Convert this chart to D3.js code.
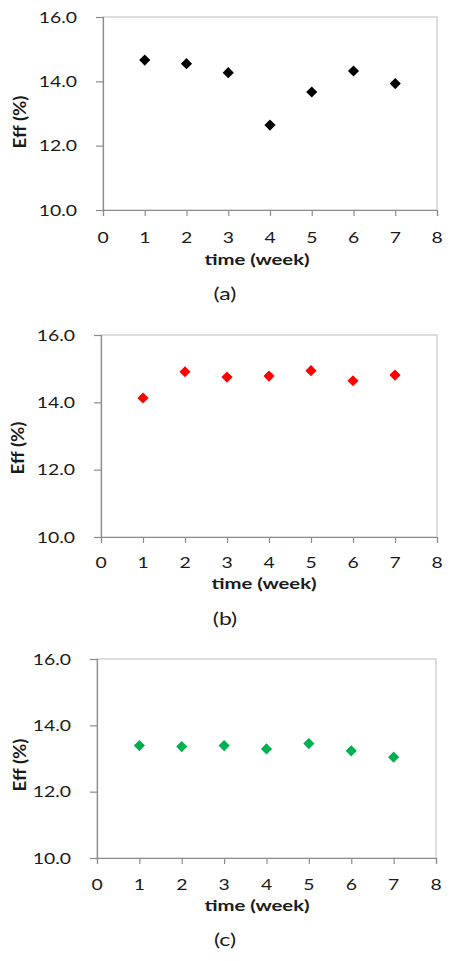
<!DOCTYPE html>
<html>
<head>
<meta charset="utf-8">
<script src="https://cdn.jsdelivr.net/npm/d3@7"></script>
<style>
  html, body { margin: 0; padding: 0; background: #fff; }
  svg { display: block; }
  text { font-family: Lato, "Open Sans", sans-serif; fill: #1a1a1a; }
</style>
</head>
<body>
<svg id="chart" width="456" height="961"></svg>
<script>
// data
const weeks = [1, 2, 3, 4, 5, 6, 7];
const effA = [14.66, 14.55, 14.27, 12.64, 13.67, 14.32, 13.93];
const effB = [14.13, 14.91, 14.75, 14.78, 14.94, 14.64, 14.81];
const effC = [13.39, 13.36, 13.39, 13.29, 13.45, 13.23, 13.04];
const xTicks = [0, 1, 2, 3, 4, 5, 6, 7, 8];
const yTicks = [10, 12, 14, 16];
const captions = ["(a)", "(b)", "(c)"];
const xTitle = "time (week)";
const yTitle = "Eff (%)";

// one entry per panel: plot box and text rows, in page pixels
const panels = [
  { values: effA, color: "#000000", left: 103, right: 437, top: 17, bottom: 210,
    tickY: 243, titleX: 257, titleY: 265, capY: 300, yTitleX: 20, yTitleY: 122 },
  { values: effB, color: "#ff0000", left: 101, right: 437, top: 335, bottom: 537,
    tickY: 568, titleX: 264, titleY: 589, capY: 625, yTitleX: 18, yTitleY: 448 },
  { values: effC, color: "#00b050", left: 97, right: 436, top: 659, bottom: 858,
    tickY: 890, titleX: 257, titleY: 911, capY: 946, yTitleX: 20, yTitleY: 765 }
];

// the original text is drawn wide, so stretch it horizontally
const tickStretch = 1.25;
const titleStretch = 1.27;
const fmtY = d3.format(".1f");

const svg = d3.select("#chart");

panels.forEach((p, k) => {
  const x = d3.scaleLinear().domain([0, 8]).range([p.left, p.right]);
  const y = d3.scaleLinear().domain([10, 16]).range([p.bottom, p.top]);
  const g = svg.append("g");

  // light plot border
  g.append("rect")
    .attr("x", p.left).attr("y", p.top)
    .attr("width", p.right - p.left).attr("height", p.bottom - p.top)
    .attr("fill", "none").attr("stroke", "#c8c8c8").attr("stroke-width", 1.2);

  // x axis, labels drawn separately
  const xa = g.append("g")
    .attr("transform", `translate(0,${p.bottom})`)
    .call(d3.axisBottom(x).tickValues(xTicks).tickSize(6).tickFormat(""));
  xa.select(".domain").attr("stroke", "#8c8c8c").attr("stroke-width", 1.2);
  xa.selectAll(".tick line").attr("stroke", "#8c8c8c").attr("stroke-width", 1.2);
  xa.selectAll(".tick text").remove();

  g.selectAll(".xlab")
    .data(xTicks)
    .enter()
    .append("text")
    .attr("class", "xlab")
    .attr("transform", d => `translate(${x(d)},${p.tickY}) scale(${tickStretch},1)`)
    .attr("text-anchor", "middle")
    .style("font-size", "15.5px")
    .text(d => d);

  // y axis, labels drawn separately
  const ya = g.append("g")
    .attr("transform", `translate(${p.left},0)`)
    .call(d3.axisLeft(y).tickValues(yTicks).tickSize(7).tickFormat(""));
  ya.select(".domain").attr("stroke", "#8c8c8c").attr("stroke-width", 1.2);
  ya.selectAll(".tick line").attr("stroke", "#8c8c8c").attr("stroke-width", 1.2);
  ya.selectAll(".tick text").remove();

  g.selectAll(".ylab")
    .data(yTicks)
    .enter()
    .append("text")
    .attr("class", "ylab")
    .attr("transform", d => `translate(${p.left - 26},${y(d) + 5.5}) scale(${tickStretch},1)`)
    .attr("text-anchor", "end")
    .style("font-size", "15.5px")
    .text(d => fmtY(d));

  // diamond markers
  g.selectAll(".pt")
    .data(p.values)
    .enter()
    .append("path")
    .attr("class", "pt")
    .attr("d", d3.symbol(d3.symbolSquare, 62)())
    .attr("transform", (d, i) => `translate(${x(weeks[i])},${y(d)}) rotate(45)`)
    .attr("fill", p.color);

  // axis titles
  g.append("text")
    .attr("transform", `translate(${p.titleX},${p.titleY}) scale(${titleStretch},1)`)
    .attr("text-anchor", "middle")
    .style("font-size", "16px").style("font-weight", "bold")
    .text(xTitle);

  g.append("text")
    .attr("transform", `translate(${p.yTitleX + 6},${p.yTitleY}) rotate(-90) scale(1.1,1)`)
    .attr("text-anchor", "middle")
    .style("font-size", "17px").style("font-weight", "bold")
    .text(yTitle);

  // caption
  g.append("text")
    .attr("transform", `translate(225,${p.capY}) scale(1.35,1)`)
    .attr("text-anchor", "middle")
    .style("font-size", "17px")
    .text(captions[k]);
});
</script>
</body>
</html>
